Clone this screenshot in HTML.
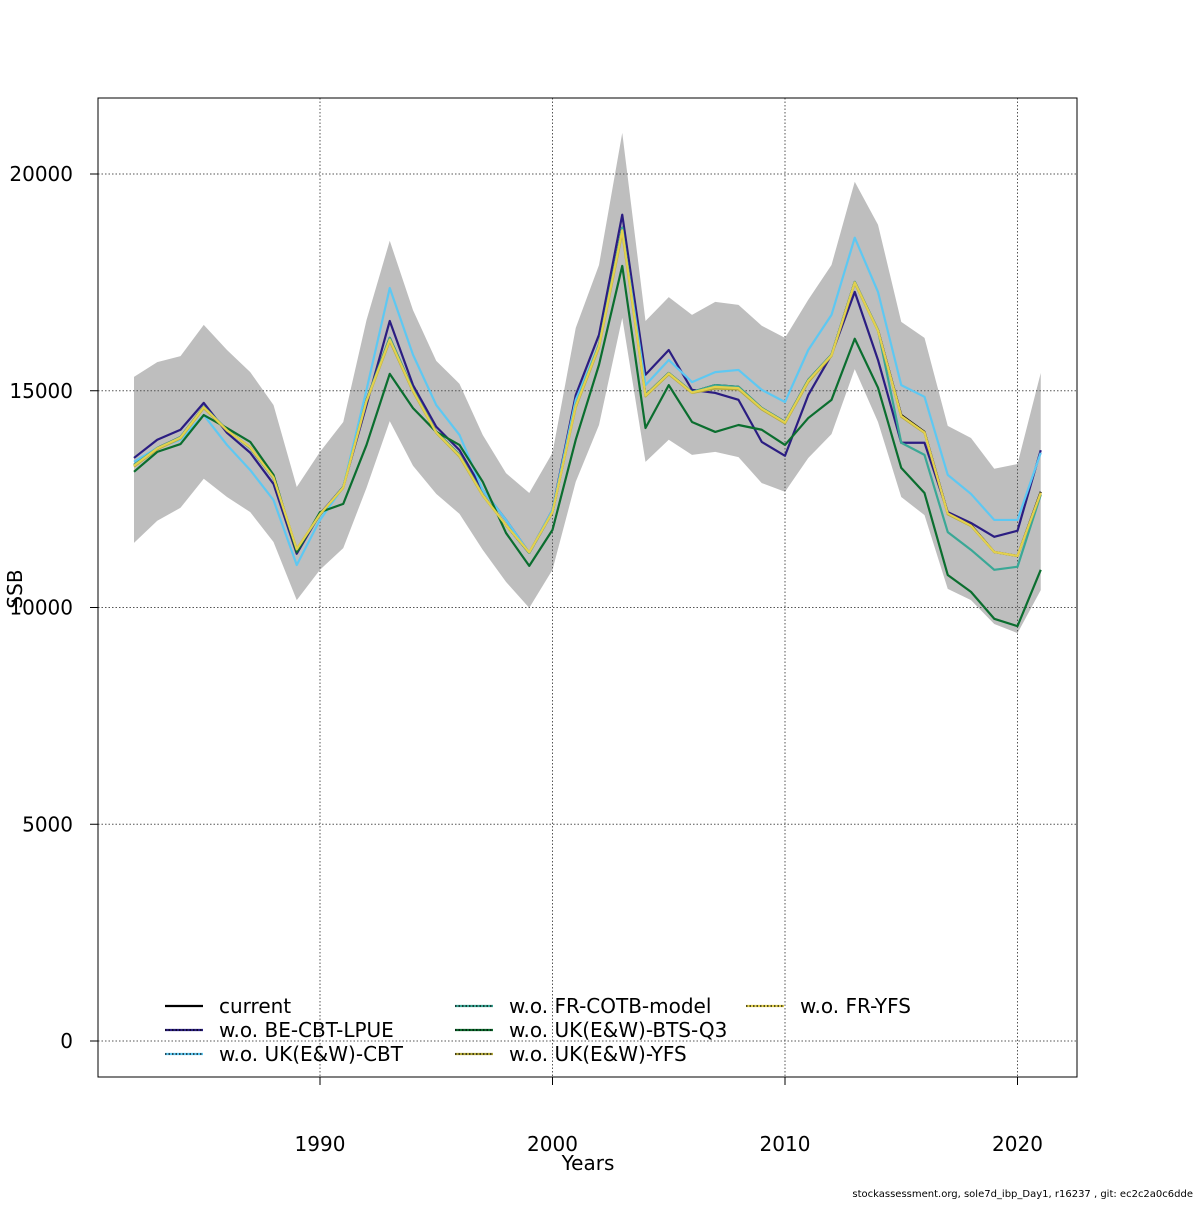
<!DOCTYPE html>
<html><head><meta charset="utf-8"><style>
body{margin:0;background:#fff;}
svg text{font-family:"DejaVu Sans","Liberation Sans",sans-serif;}
</style></head><body>
<svg id="chart" width="1200" height="1200" xmlns="http://www.w3.org/2000/svg"></svg>
<script>
const years = [];
for (let y = 1982; y <= 2021; y++) years.push(y);
const yTicks = [0, 5000, 10000, 15000, 20000];
const xTicks = [1990, 2000, 2010, 2020];
const bandUpper = [15320,15660,15800,16520,15940,15430,14670,12780,13590,14280,16630,18460,16860,15690,15160,13980,13100,12640,13570,16450,17900,20950,16610,17160,16750,17050,16980,16500,16220,17100,17900,19820,18830,16590,16220,14190,13910,13200,13310,15410];
const bandLower = [11490,12000,12300,12970,12550,12200,11510,10170,10870,11370,12760,14300,13270,12620,12160,11330,10590,9990,10870,12900,14210,16680,13360,13870,13520,13590,13470,12870,12670,13450,14000,15500,14280,12550,12130,10430,10170,9620,9410,10400];
const current = [13290,13680,13930,14630,14100,13680,12990,11330,12140,12780,14790,16220,15020,14050,13520,12600,11900,11260,12200,14670,16060,18760,14900,15410,14970,15130,15090,14600,14280,15250,15830,17510,16400,14440,14050,12180,11900,11280,11190,12670];
const woBE = [13450,13870,14100,14720,14030,13570,12850,11240,12160,12780,14670,16610,15130,14170,13630,12710,12020,11260,12250,14900,16290,19060,15370,15940,15020,14950,14790,13820,13500,14900,15830,17280,15710,13800,13800,12200,11950,11630,11770,13630];
const woUKCBT = [13360,13680,13870,14440,13750,13170,12480,10980,12020,12780,15020,17370,15830,14670,13980,12710,12020,11260,12250,14790,16060,18710,15130,15710,15200,15430,15480,15020,14740,15940,16750,18530,17280,15130,14860,13060,12620,12020,12020,13570];
const woFR = [13290,13680,13930,14630,14100,13680,12990,11330,12140,12780,14790,16220,15020,14050,13520,12600,11900,11260,12200,14670,16060,18760,14900,15410,14970,15130,15090,14600,14280,15250,15830,17510,16400,13800,13520,11740,11330,10870,10940,12600];
const woBTS = [13130,13590,13770,14440,14140,13820,13060,11280,12200,12390,13750,15390,14600,14050,13750,12900,11720,10960,11790,13870,15600,17880,14140,15130,14280,14050,14210,14100,13750,14370,14790,16200,15070,13220,12640,10750,10360,9740,9570,10870];
const woUKYFS = [13250,13650,13900,14600,14080,13700,13000,11350,12150,12760,14750,16150,14980,14030,13480,12580,11900,11270,12200,14620,16000,18650,14870,15380,14950,15050,15030,14570,14250,15200,15800,17480,16380,14400,14030,12150,11880,11280,11190,12630];
const woFRYFS = [13270,13670,13920,14620,14090,13690,13000,11340,12150,12770,14770,16180,15000,14040,13500,12590,11900,11270,12200,14650,16030,18700,14890,15400,14960,15090,15060,14590,14270,15230,15820,17500,16390,14420,14040,12170,11890,11280,11190,12650];

const NS = "http://www.w3.org/2000/svg";
const svg = document.getElementById('chart');
const L = 98, R = 1077, T = 98, B = 1077;
const xs = y => 320 + (y - 1990) * 23.25;
const ys = v => 1041 - v * 0.04335;
function mk(tag, attrs, parent) {
  const e = document.createElementNS(NS, tag);
  for (const k in attrs) e.setAttribute(k, attrs[k]);
  (parent || svg).appendChild(e);
  return e;
}
let d = years.map((y, i) => (i ? 'L' : 'M') + xs(y) + ',' + ys(bandUpper[i])).join('');
for (let i = years.length - 1; i >= 0; i--) d += 'L' + xs(years[i]) + ',' + ys(bandLower[i]);
const band = mk('path', {d: d + 'Z', fill: '#bebebe', stroke: 'none'});


xTicks.forEach(t => {
  const g = mk('line', {x1: xs(t), x2: xs(t), y1: T, y2: B, stroke: '#555', 'stroke-width': 1, 'stroke-dasharray': '1.5,2'});
  
  
});
yTicks.forEach(t => {
  const g = mk('line', {x1: L, x2: R, y1: ys(t), y2: ys(t), stroke: '#555', 'stroke-width': 1, 'stroke-dasharray': '1.5,2'});
  
  
});
const series = [
  {n: 'current', v: current, c: '#000000'},
  {n: 'be-cbt-lpue', v: woBE, c: '#2b1d82'},
  {n: 'uk-cbt', v: woUKCBT, c: '#5ec8f2'},
  {n: 'fr-cotb-model', v: woFR, c: '#3aa896'},
  {n: 'uk-bts-q3', v: woBTS, c: '#0b6e2f'},
  {n: 'uk-yfs', v: woUKYFS, c: '#b5aa3a'},
  {n: 'fr-yfs', v: woFRYFS, c: '#e2d04e'}
];
series.forEach(s => {
  const p = mk('path', {d: years.map((y, i) => (i ? 'L' : 'M') + xs(y) + ',' + ys(s.v[i])).join(''), fill: 'none', stroke: s.c, 'stroke-width': 2.2, 'stroke-linejoin': 'round'});
  
  
});
const fr = mk('rect', {x: L, y: T, width: R - L, height: B - T, fill: 'none', stroke: '#000', 'stroke-width': 1});


xTicks.forEach(t => {
  const tk = mk('line', {x1: xs(t), x2: xs(t), y1: B, y2: B + 8, stroke: '#000'});
  
  
  const tx = mk('text', {x: xs(t), y: 1151, 'text-anchor': 'middle', 'font-size': 20});
  tx.textContent = t;
  
  
});
yTicks.forEach(t => {
  const tk = mk('line', {x1: L - 8, x2: L, y1: ys(t), y2: ys(t), stroke: '#000'});
  
  
  const tx = mk('text', {x: 73, y: ys(t) + 7, 'text-anchor': 'end', 'font-size': 20});
  tx.textContent = t;
  
  
});
const xt = mk('text', {x: 588, y: 1170, 'text-anchor': 'middle', 'font-size': 20});
xt.textContent = 'Years';


const yt = mk('text', {x: 22, y: 589, 'text-anchor': 'middle', 'font-size': 20, transform: 'rotate(-90 22 589)'});
yt.textContent = 'SSB';


const ft = mk('text', {x: 1193, y: 1197, 'text-anchor': 'end', 'font-size': 10});
ft.textContent = 'stockassessment.org, sole7d_ibp_Day1, r16237 , git: ec2c2a0c6dde';


const legNames = ['current', 'w.o. BE-CBT-LPUE', 'w.o. UK(E&W)-CBT', 'w.o. FR-COTB-model', 'w.o. UK(E&W)-BTS-Q3', 'w.o. UK(E&W)-YFS', 'w.o. FR-YFS'];
const legPos = [[165, 1006], [165, 1030], [165, 1054], [455, 1006], [455, 1030], [455, 1054], [746, 1006]];
legNames.forEach((n, i) => {
  const [lx, ly] = legPos[i];
  const g = mk('g', {});
  
  
  mk('line', {x1: lx, x2: lx + 38, y1: ly, y2: ly, stroke: series[i].c, 'stroke-width': 2.2}, g);
  if (i > 0) mk('line', {x1: lx, x2: lx + 38, y1: ly, y2: ly, stroke: '#000', 'stroke-width': 1.2, 'stroke-dasharray': '1.5,2'}, g);
  const t = mk('text', {x: lx + 54, y: ly + 7, 'font-size': 20}, g);
  t.textContent = n;
});
</script>
</body></html>
